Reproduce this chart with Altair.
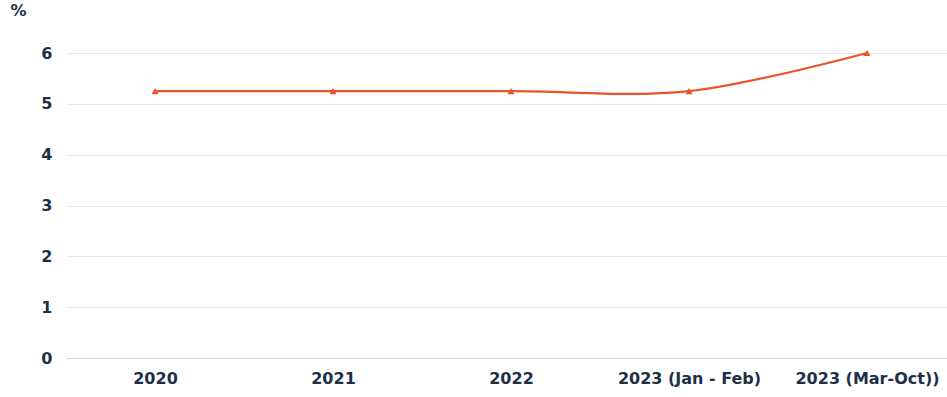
import altair as alt
import pandas as pd

periods = ["2020", "2021", "2022", "2023 (Jan - Feb)", "2023 (Mar-Oct))"]
rates = [5.25, 5.25, 5.25, 5.25, 6.0]

df = pd.DataFrame({"period": periods, "rate": rates})

LINE = "#e9542b"
TEXT = "#1d3048"
FONT = "DejaVu Sans"

x = alt.X(
    "period:N",
    sort=periods,
    scale=alt.Scale(type="point", padding=0.5, range=[0, 890]),
    axis=alt.Axis(
        title=None, labelAngle=0, labelFontSize=16, labelFontWeight="bold",
        labelColor=TEXT, labelFont=FONT, labelPadding=12, ticks=False,
        domain=False, grid=False,
    ),
)
y = alt.Y(
    "rate:Q",
    scale=alt.Scale(domain=[0, 6], nice=False),
    axis=alt.Axis(
        title="%", titleAngle=0, titleX=-48, titleY=-35, titleAlign="center",
        titleFontSize=16, titleFontWeight="bold", titleColor=TEXT, titleFont=FONT,
        values=[0, 1, 2, 3, 4, 5, 6], labelFontSize=16, labelFontWeight="bold",
        labelColor=TEXT, labelFont=FONT, labelPadding=14, ticks=False,
        domain=False, gridWidth=1,
        gridColor=alt.condition("datum.value == 0", alt.value("#d6dae0"), alt.value("#e7e8ec")),
    ),
)

line = alt.Chart(df).mark_line(
    color=LINE, strokeWidth=2.2, interpolate="cardinal"
).encode(x=x, y=y)

points = alt.Chart(df).mark_point(
    shape="triangle-up", filled=True, color=LINE, size=50, opacity=1
).encode(x=x, y=y)

chart = (
    alt.layer(line, points)
    .properties(
        width=881, height=305, autosize="none",
        padding={"left": 66, "top": 53, "right": 0, "bottom": 39},
        view=alt.ViewBackground(strokeOpacity=0, strokeWidth=0),
    )
    .configure_view(strokeWidth=0, strokeOpacity=0)
    .configure_axis(domain=False, ticks=False)
    .configure_axisX(grid=False)
    .configure(background="white")
)

chart.save("out.html", embed_options={"renderer": "svg", "actions": False})
